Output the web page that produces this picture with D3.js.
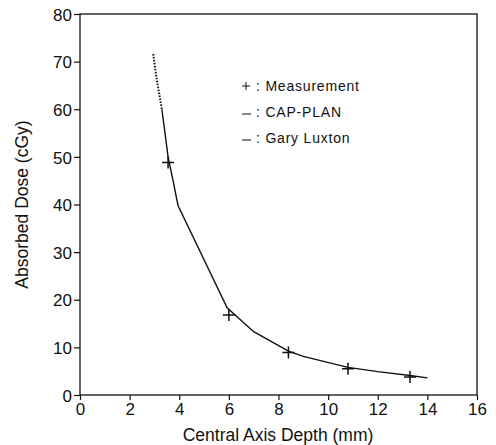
<!DOCTYPE html>
<html lang="en">
<head>
<meta charset="UTF-8">
<title>Absorbed Dose vs Central Axis Depth</title>
<style>
    body { margin: 0; background: #fff; }
    svg text { font-family: "Liberation Sans", Arial, sans-serif; fill: #111; }
</style>
</head>
<body>
<div id="chart"></div>
<script src="https://d3js.org/d3.v7.min.js"></script>
<script>
// measurement points (depth mm, dose cGy)
const measDepth = [3.55, 6.0, 8.4, 10.8, 13.3];
const measDose  = [48.8, 16.8, 8.9, 5.5, 3.8];

// CAP-PLAN calculated curve
const capDepth = [3.3, 3.55, 3.75, 3.95, 5.93, 7.0, 8.4, 9.0, 10.8, 12.0, 13.3, 14.0];
const capDose  = [60, 50, 45, 39.8, 18.3, 13.3, 9.2, 8.1, 5.8, 4.9, 4.1, 3.6];

// Gary Luxton curve (dotted where it shows above CAP-PLAN)
const luxDepth = [2.95, 3.1, 3.3];
const luxDose  = [71.6, 66, 60];

const xTicks = [0, 2, 4, 6, 8, 10, 12, 14, 16];
const yTicks = [0, 10, 20, 30, 40, 50, 60, 70, 80];

const legendItems = [
    { sym: "+", label: ": Measurement" },
    { sym: "line", label: ": CAP-PLAN" },
    { sym: "line", label: ": Gary Luxton" }
];

const W = 496, H = 445;
const margin = { left: 80, right: 19, top: 14, bottom: 50 };

const svg = d3.select("#chart").append("svg")
    .attr("width", W)
    .attr("height", H);

const x = d3.scaleLinear().domain([0, 16]).range([margin.left, W - margin.right]);
const y = d3.scaleLinear().domain([0, 80]).range([H - margin.bottom, margin.top]);

// frame
svg.append("rect")
    .attr("x", x(0)).attr("y", y(80))
    .attr("width", x(16) - x(0)).attr("height", y(0) - y(80))
    .attr("fill", "none").attr("stroke", "#111").attr("stroke-width", 1.3);

const xAxis = svg.append("g")
    .attr("transform", `translate(0,${y(0)})`)
    .call(d3.axisBottom(x).tickValues(xTicks).tickSize(5).tickPadding(3).tickSizeOuter(0));
xAxis.select(".domain").remove();
xAxis.selectAll("text").attr("font-size", 17);

const yAxis = svg.append("g")
    .attr("transform", `translate(${x(0)},0)`)
    .call(d3.axisLeft(y).tickValues(yTicks).tickSize(6).tickPadding(2).tickSizeOuter(0));
yAxis.select(".domain").remove();
yAxis.selectAll("text").attr("font-size", 17).attr("dy", "0.36em");

svg.selectAll(".tick line").attr("stroke", "#111").attr("stroke-width", 1.2);

// axis titles
svg.append("text")
    .attr("x", 278).attr("y", 441)
    .attr("text-anchor", "middle")
    .attr("font-size", 17.5)
    .text("Central Axis Depth (mm)");

svg.append("text")
    .attr("transform", `translate(28,${(y(0) + y(80)) / 2}) rotate(-90)`)
    .attr("text-anchor", "middle")
    .attr("font-size", 17.5)
    .text("Absorbed Dose (cGy)");

const line = d3.line()
    .x(d => x(d[0]))
    .y(d => y(d[1]))
    .curve(d3.curveLinear);

svg.append("path")
    .datum(luxDepth.map((d, i) => [d, luxDose[i]]))
    .attr("d", line)
    .attr("fill", "none")
    .attr("stroke", "#111")
    .attr("stroke-width", 2)
    .attr("stroke-dasharray", "1.5,1.5");

svg.append("path")
    .datum(capDepth.map((d, i) => [d, capDose[i]]))
    .attr("d", line)
    .attr("fill", "none")
    .attr("stroke", "#111")
    .attr("stroke-width", 1.4);

// measurement crosses
svg.append("g").selectAll("path")
    .data(measDepth.map((d, i) => [d, measDose[i]]))
    .enter().append("path")
    .attr("d", d => {
        const cx = x(d[0]), cy = y(d[1]);
        return `M${cx - 6},${cy}H${cx + 6}M${cx},${cy - 6}V${cy + 6}`;
    })
    .attr("stroke", "#111")
    .attr("stroke-width", 1.5);

// legend
const legend = svg.append("g");
legendItems.forEach((item, i) => {
    const ly = 86 + i * 26;
    if (item.sym === "+") {
        legend.append("path")
            .attr("d", `M${242},${ly}H${250}M${246},${ly - 4}V${ly + 4}`)
            .attr("stroke", "#111").attr("stroke-width", 1);
    } else {
        legend.append("line")
            .attr("x1", 242).attr("x2", 251)
            .attr("y1", ly + 2).attr("y2", ly + 2)
            .attr("stroke", "#111").attr("stroke-width", 1);
    }
    legend.append("text")
        .attr("x", 256).attr("y", ly)
        .attr("dy", "0.36em")
        .attr("font-size", 14)
        .attr("letter-spacing", 0.8)
        .text(item.label);
});
</script>
</body>
</html>
